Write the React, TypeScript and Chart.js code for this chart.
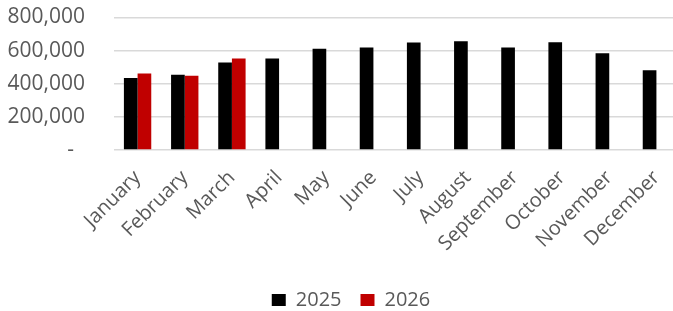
import React, { useEffect, useRef } from "react";
import { Chart, registerables } from "chart.js";

Chart.register(...registerables);

const months = [
  "January", "February", "March", "April", "May", "June",
  "July", "August", "September", "October", "November", "December",
];
const series2025 = [435000, 454000, 529000, 552000, 612000, 619000, 649000, 657000, 619000, 651000, 584000, 481000];
const series2026 = [462000, 448000, 552000, null, null, null, null, null, null, null, null, null];
const yTicks = [0, 200000, 400000, 600000, 800000];

const TEXT = "#595959";
const FONT = "'Open Sans', sans-serif";

export default function App() {
  const ref = useRef<HTMLCanvasElement | null>(null);

  useEffect(() => {
    document.body.style.margin = "0";
    const ctx = ref.current!.getContext("2d")!;
    const chart = new Chart(ctx, {
      type: "bar",
      data: {
        labels: months,
        datasets: [
          { label: "2025", data: series2025, backgroundColor: "#000000", borderWidth: 0 },
          { label: "2026", data: series2026 as any, backgroundColor: "#C00000", borderWidth: 0 },
        ],
      },
      options: {
        responsive: false,
        animation: false,
        devicePixelRatio: 1,
        layout: { padding: { left: 0, right: 0, top: 17.5, bottom: -9 } },
        datasets: { bar: { categoryPercentage: 0.58, barPercentage: 1 } },
        plugins: {
          tooltip: { enabled: false },
          legend: {
            position: "bottom",
            labels: {
              color: TEXT,
              font: { family: FONT, size: 20 },
              boxWidth: 14,
              boxHeight: 12,
              padding: 19,
            },
          },
        },
        scales: {
          x: {
            grid: { display: false, drawTicks: false },
            border: { display: false },
            ticks: {
              color: TEXT,
              font: { family: FONT, size: 20 },
              minRotation: 45,
              maxRotation: 45,
              autoSkip: false,
              padding: 16,
            },
            afterFit: (s: any) => {
              s.height = 121;
              s.paddingLeft = 0;
              s.paddingRight = 22;
            },
          },
          y: {
            min: 0,
            max: 800000,
            afterBuildTicks: (s: any) => { s.ticks = yTicks.map((v) => ({ value: v })); },
            grid: { color: "#d9d9d9", lineWidth: 1.5, drawTicks: false },
            border: { display: false },
            ticks: {
              color: TEXT,
              font: { family: FONT, size: 21 },
              padding: 29,
              autoSkip: false,
              callback: (v: any) => (Number(v) === 0 ? "-  " : Number(v).toLocaleString("en-US")),
            },
            afterFit: (s: any) => {
              s.width = 114;
              s.paddingTop = 0;
              s.paddingBottom = 0;
            },
          },
        },
      },
    });
    return () => chart.destroy();
  }, []);

  return (
    <div style={{ position: "fixed", left: 0, top: 0, width: 673, height: 311, overflow: "hidden", background: "#fff" }}>
      <canvas ref={ref} width={702} height={311} style={{ width: 702, height: 311, display: "block" }} />
    </div>
  );
}
